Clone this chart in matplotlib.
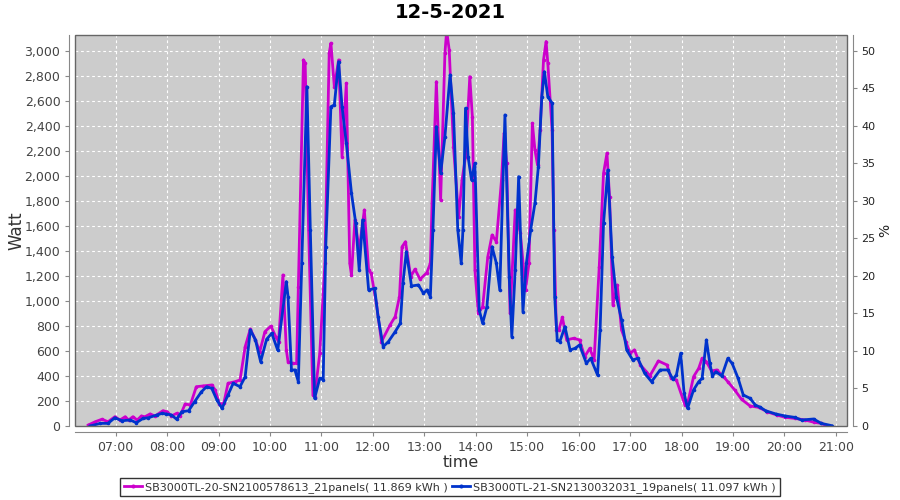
import matplotlib
matplotlib.use("Agg")
import matplotlib.pyplot as plt
import matplotlib.dates as mdates
import pandas as pd
from matplotlib.patches import Rectangle
from matplotlib.ticker import FuncFormatter, MultipleLocator

day = "2021-05-12"
title = "12-5-2021"
label_a = "SB3000TL-20-SN2100578613_21panels( 11.869 kWh )"
label_b = "SB3000TL-21-SN2130032031_19panels( 11.097 kWh )"

times_a = [
    "06:28", "06:36", "06:44", "06:51", "06:59", "07:05", "07:11", "07:15", "07:20", "07:25",
    "07:30", "07:34", "07:40", "07:46", "07:55", "08:00", "08:05", "08:11", "08:15", "08:21",
    "08:27", "08:34", "08:42", "08:52", "08:56", "09:01", "09:06", "09:11", "09:19", "09:25",
    "09:31", "09:37", "09:43", "09:48", "09:54", "10:01", "10:07", "10:10", "10:15", "10:19",
    "10:21", "10:27", "10:31", "10:33", "10:39", "10:41", "10:45", "10:50", "10:52", "10:58",
    "11:04", "11:09", "11:11", "11:15", "11:20", "11:24", "11:29", "11:33", "11:35", "11:39",
    "11:44", "11:50", "11:55", "11:58", "12:04", "12:10", "12:20", "12:26", "12:31", "12:34",
    "12:38", "12:44", "12:49", "12:55", "13:03", "13:07", "13:09", "13:14", "13:19", "13:24",
    "13:26", "13:29", "13:34", "13:40", "13:44", "13:48", "13:53", "13:56", "13:59", "14:03",
    "14:08", "14:14", "14:19", "14:24", "14:30", "14:33", "14:36", "14:40", "14:46", "14:52",
    "14:58", "15:02", "15:06", "15:09", "15:12", "15:15", "15:19", "15:22", "15:24", "15:29",
    "15:31", "15:34", "15:37", "15:41", "15:46", "15:54", "16:01", "16:07", "16:13", "16:18",
    "16:24", "16:29", "16:33", "16:36", "16:40", "16:45", "16:50", "16:55", "17:00", "17:05",
    "17:12", "17:19", "17:23", "17:33", "17:43", "17:48", "17:54", "18:04", "18:08", "18:14",
    "18:20", "18:24", "18:29", "18:35", "18:41", "18:49", "18:54", "19:02", "19:10", "19:20",
    "19:30", "19:40", "19:51", "20:01", "20:12", "20:24", "20:35", "20:43", "20:49",
]
watt_a = [
    8, 34, 54, 34, 74, 48, 74, 48, 74, 48,
    80, 74, 96, 80, 122, 114, 80, 101, 80, 176,
    168, 314, 320, 328, 288, 176, 181, 341, 354, 368,
    634, 775, 688, 594, 754, 799, 709, 674, 1207, 608,
    514, 500, 500, 1114, 2926, 2900, 1567, 248, 234, 581,
    1300, 2980, 3060, 2712, 2926, 2153, 2740, 1300, 1207, 1647,
    1407, 1727, 1247, 1220, 981, 674, 808, 874, 1034, 1433,
    1473, 1194, 1253, 1173, 1226, 1300, 1780, 2752, 1807, 2980,
    3160, 3006, 2233, 1673, 1967, 2153, 2792, 2472, 1247, 901,
    954, 1353, 1527, 1473, 1967, 2340, 2100, 901, 1727, 1540,
    1087, 1300, 2420, 2206, 2086, 2366, 2926, 3073, 2900, 2366,
    1567, 768, 768, 869, 688, 701, 688, 554, 621, 528,
    1273, 2020, 2180, 1833, 968, 1127, 768, 674, 581, 608,
    488, 434, 400, 520, 488, 381, 368, 168, 208, 394,
    461, 541, 514, 440, 448, 394, 354, 288, 213, 160,
    149, 114, 88, 69, 61, 48, 29, 21, 3,
]

times_b = [
    "06:30", "06:42", "06:51", "06:59", "07:07", "07:17", "07:24", "07:32", "07:38", "07:48",
    "07:54", "07:59", "08:05", "08:11", "08:17", "08:25", "08:32", "08:40", "08:46", "08:52",
    "08:58", "09:04", "09:11", "09:17", "09:25", "09:31", "09:37", "09:43", "09:49", "09:56",
    "10:02", "10:09", "10:19", "10:21", "10:25", "10:29", "10:33", "10:37", "10:43", "10:47",
    "10:52", "10:58", "11:02", "11:05", "11:11", "11:15", "11:20", "11:24", "11:29", "11:35",
    "11:40", "11:44", "11:48", "11:55", "12:02", "12:06", "12:12", "12:18", "12:26", "12:32",
    "12:35", "12:39", "12:45", "12:53", "12:59", "13:03", "13:07", "13:10", "13:14", "13:19",
    "13:24", "13:30", "13:34", "13:39", "13:43", "13:45", "13:48", "13:51", "13:55", "13:59",
    "14:04", "14:08", "14:13", "14:19", "14:24", "14:28", "14:34", "14:39", "14:42", "14:46",
    "14:50", "14:55", "14:59", "15:04", "15:09", "15:13", "15:17", "15:20", "15:24", "15:29",
    "15:32", "15:35", "15:38", "15:44", "15:50", "15:56", "16:01", "16:09", "16:14", "16:22",
    "16:25", "16:29", "16:34", "16:39", "16:44", "16:50", "16:56", "17:03", "17:09", "17:17",
    "17:25", "17:35", "17:44", "17:50", "17:54", "17:59", "18:03", "18:07", "18:14", "18:20",
    "18:24", "18:29", "18:33", "18:36", "18:40", "18:47", "18:54", "18:59", "19:06", "19:12",
    "19:20", "19:26", "19:32", "19:38", "19:50", "20:01", "20:12", "20:20", "20:34", "20:43",
    "20:55",
]
watt_b = [
    0, 21, 21, 66, 42, 48, 26, 61, 66, 88,
    101, 96, 88, 54, 114, 122, 194, 274, 314, 301,
    208, 141, 248, 341, 314, 394, 768, 688, 514, 693,
    741, 605, 1154, 1034, 448, 448, 354, 1300, 2712, 1567,
    221, 381, 370, 1433, 2552, 2566, 2912, 2552, 2260, 1860,
    1620, 1247, 1647, 1087, 1100, 874, 634, 674, 754, 821,
    1141, 1393, 1119, 1127, 1061, 1087, 1034, 1567, 2393, 2020,
    2313, 2806, 2500, 1567, 1300, 1567, 2540, 2153, 1967, 2100,
    927, 821, 954, 1433, 1300, 1087, 2486, 1194, 714, 1247,
    1993, 914, 1300, 1567, 1780, 2073, 2632, 2832, 2632, 2580,
    1034, 688, 674, 794, 608, 621, 648, 501, 541, 408,
    768, 1620, 2046, 1353, 1034, 848, 608, 528, 541, 421,
    354, 448, 448, 373, 408, 581, 261, 141, 288, 354,
    381, 688, 501, 400, 434, 400, 541, 501, 381, 248,
    221, 168, 149, 122, 96, 80, 69, 48, 56, 21,
    3,
]

color_a = "#cc00cc"
color_b = "#0033cc"
axis_grey = "#888888"
text_grey = "#444444"


def to_dt(times):
    return pd.to_datetime([f"{day} {t}" for t in times])


def main() -> None:
    fig = plt.figure(figsize=(9.0, 5.0), dpi=100)
    ax = fig.add_axes([75 / 900, 74 / 500, 772 / 900, 391 / 500])
    ax.set_facecolor("#cccccc")
    ax.add_patch(Rectangle((0, 0), 1, 1, transform=ax.transAxes, fill=False,
                           edgecolor="#666666", lw=1.0, zorder=5, clip_on=False))

    xa, xb = to_dt(times_a), to_dt(times_b)
    ax.plot(xa, watt_a, color=color_a, lw=2.0, marker="o", ms=1.6, zorder=3, label=label_a)
    ax.plot(xb, watt_b, color=color_b, lw=2.0, marker="o", ms=1.6, zorder=3, label=label_b)

    ymax = 3125
    ax.set_ylim(0, ymax)
    ax.set_xlim(pd.Timestamp(f"{day} 06:12:30"), pd.Timestamp(f"{day} 21:13:00"))
    ax.yaxis.set_major_locator(MultipleLocator(200))
    ax.yaxis.set_major_formatter(FuncFormatter(lambda v, _: f"{int(v):,}"))
    ax.xaxis.set_major_locator(mdates.HourLocator())
    ax.xaxis.set_major_formatter(mdates.DateFormatter("%H:%M"))
    ax.grid(True, color="white", ls=(0, (2.5, 2.5)), lw=0.8)
    ax.set_axisbelow(True)

    ax2 = ax.twinx()
    ax2.set_ylim(0, ymax / 60)
    ax2.yaxis.set_major_locator(MultipleLocator(5))

    for a in (ax, ax2):
        for side, sp in a.spines.items():
            sp.set_color(axis_grey)
            sp.set_position(("outward", 4))
        a.spines["top"].set_visible(False)
        a.tick_params(colors=text_grey, labelsize=9, length=3, width=0.8, labelcolor=text_grey)
        a.tick_params(axis="both", color=axis_grey)
    ax.spines["right"].set_visible(False)
    ax2.spines["left"].set_visible(False)
    ax2.spines["bottom"].set_visible(False)
    ax2.tick_params(axis="y", labelsize=8, labelcolor="#222222")

    ax.set_ylabel("Watt", fontsize=12, color="#333333", labelpad=-1)
    ax.set_xlabel("time", fontsize=11.5, color="#333333", labelpad=1)
    ax2.set_ylabel("%", fontsize=10, color="#222222", labelpad=2)

    fig.suptitle(title, fontsize=14, fontweight="bold", y=0.993)

    leg = fig.legend(loc="lower center", bbox_to_anchor=(0.5, -0.004), ncol=2, fontsize=8,
                     frameon=True, fancybox=False, edgecolor="black", handlelength=1.6,
                     handletextpad=0.3, columnspacing=0.4, borderpad=0.35, markerscale=1.2)
    leg.get_frame().set_linewidth(1.0)
    for t in leg.get_texts():
        t.set_color("#333333")

    fig.savefig("out.png", dpi=100)
    plt.close(fig)


if __name__ == "__main__":
    main()
